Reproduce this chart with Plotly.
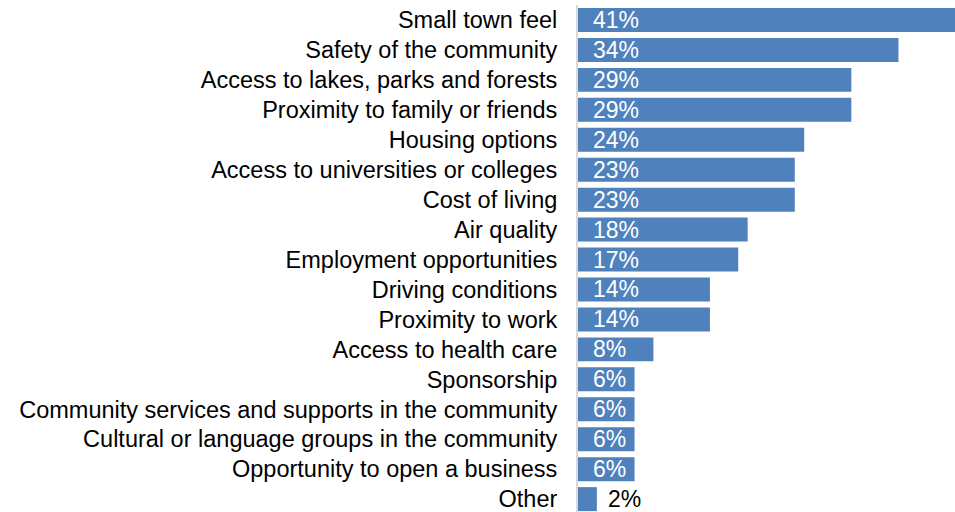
import plotly.graph_objects as go

categories = [
    "Small town feel",
    "Safety of the community",
    "Access to lakes, parks and forests",
    "Proximity to family or friends",
    "Housing options",
    "Access to universities or colleges",
    "Cost of living",
    "Air quality",
    "Employment opportunities",
    "Driving conditions",
    "Proximity to work",
    "Access to health care",
    "Sponsorship",
    "Community services and supports in the community",
    "Cultural or language groups in the community",
    "Opportunity to open a business",
    "Other",
]
values = [41, 34, 29, 29, 24, 23, 23, 18, 17, 14, 14, 8, 6, 6, 6, 6, 2]

FONT = "Liberation Sans, Arial, sans-serif"
BAR_COLOR = "#4f81bd"

fig = go.Figure(
    go.Bar(
        x=values,
        y=categories,
        orientation="h",
        marker=dict(color=BAR_COLOR, line=dict(width=0)),
        hoverinfo="skip",
    )
)

# Value labels: white inside the longer bars, black just past the short ones
for cat, v in zip(categories, values):
    if v >= 5:
        fig.add_annotation(
            x=0, y=cat, text=f"{v}%", showarrow=False,
            xanchor="left", xshift=13,
            font=dict(family=FONT, size=23, color="white"),
        )
    else:
        fig.add_annotation(
            x=v, y=cat, text=f"{v}%", showarrow=False,
            xanchor="left", xshift=9,
            font=dict(family=FONT, size=23, color="black"),
        )

fig.update_layout(
    width=955,
    height=512,
    margin=dict(l=578, r=0, t=5, b=0),
    paper_bgcolor="white",
    plot_bgcolor="white",
    bargap=0.2,
    showlegend=False,
    font=dict(family=FONT, color="black"),
    xaxis=dict(
        range=[0, 40.0],
        visible=False,
        showgrid=False,
        zeroline=False,
    ),
    yaxis=dict(
        categoryorder="array",
        categoryarray=categories,
        range=[16.43, -0.5],
        showgrid=False,
        zeroline=False,
        showline=True,
        linecolor="#d9d9d9",
        linewidth=2,
        ticks="",
        ticklabelstandoff=14,
        tickfont=dict(family=FONT, size=23.5, color="black"),
    ),
)

fig.write_html("out.html")
